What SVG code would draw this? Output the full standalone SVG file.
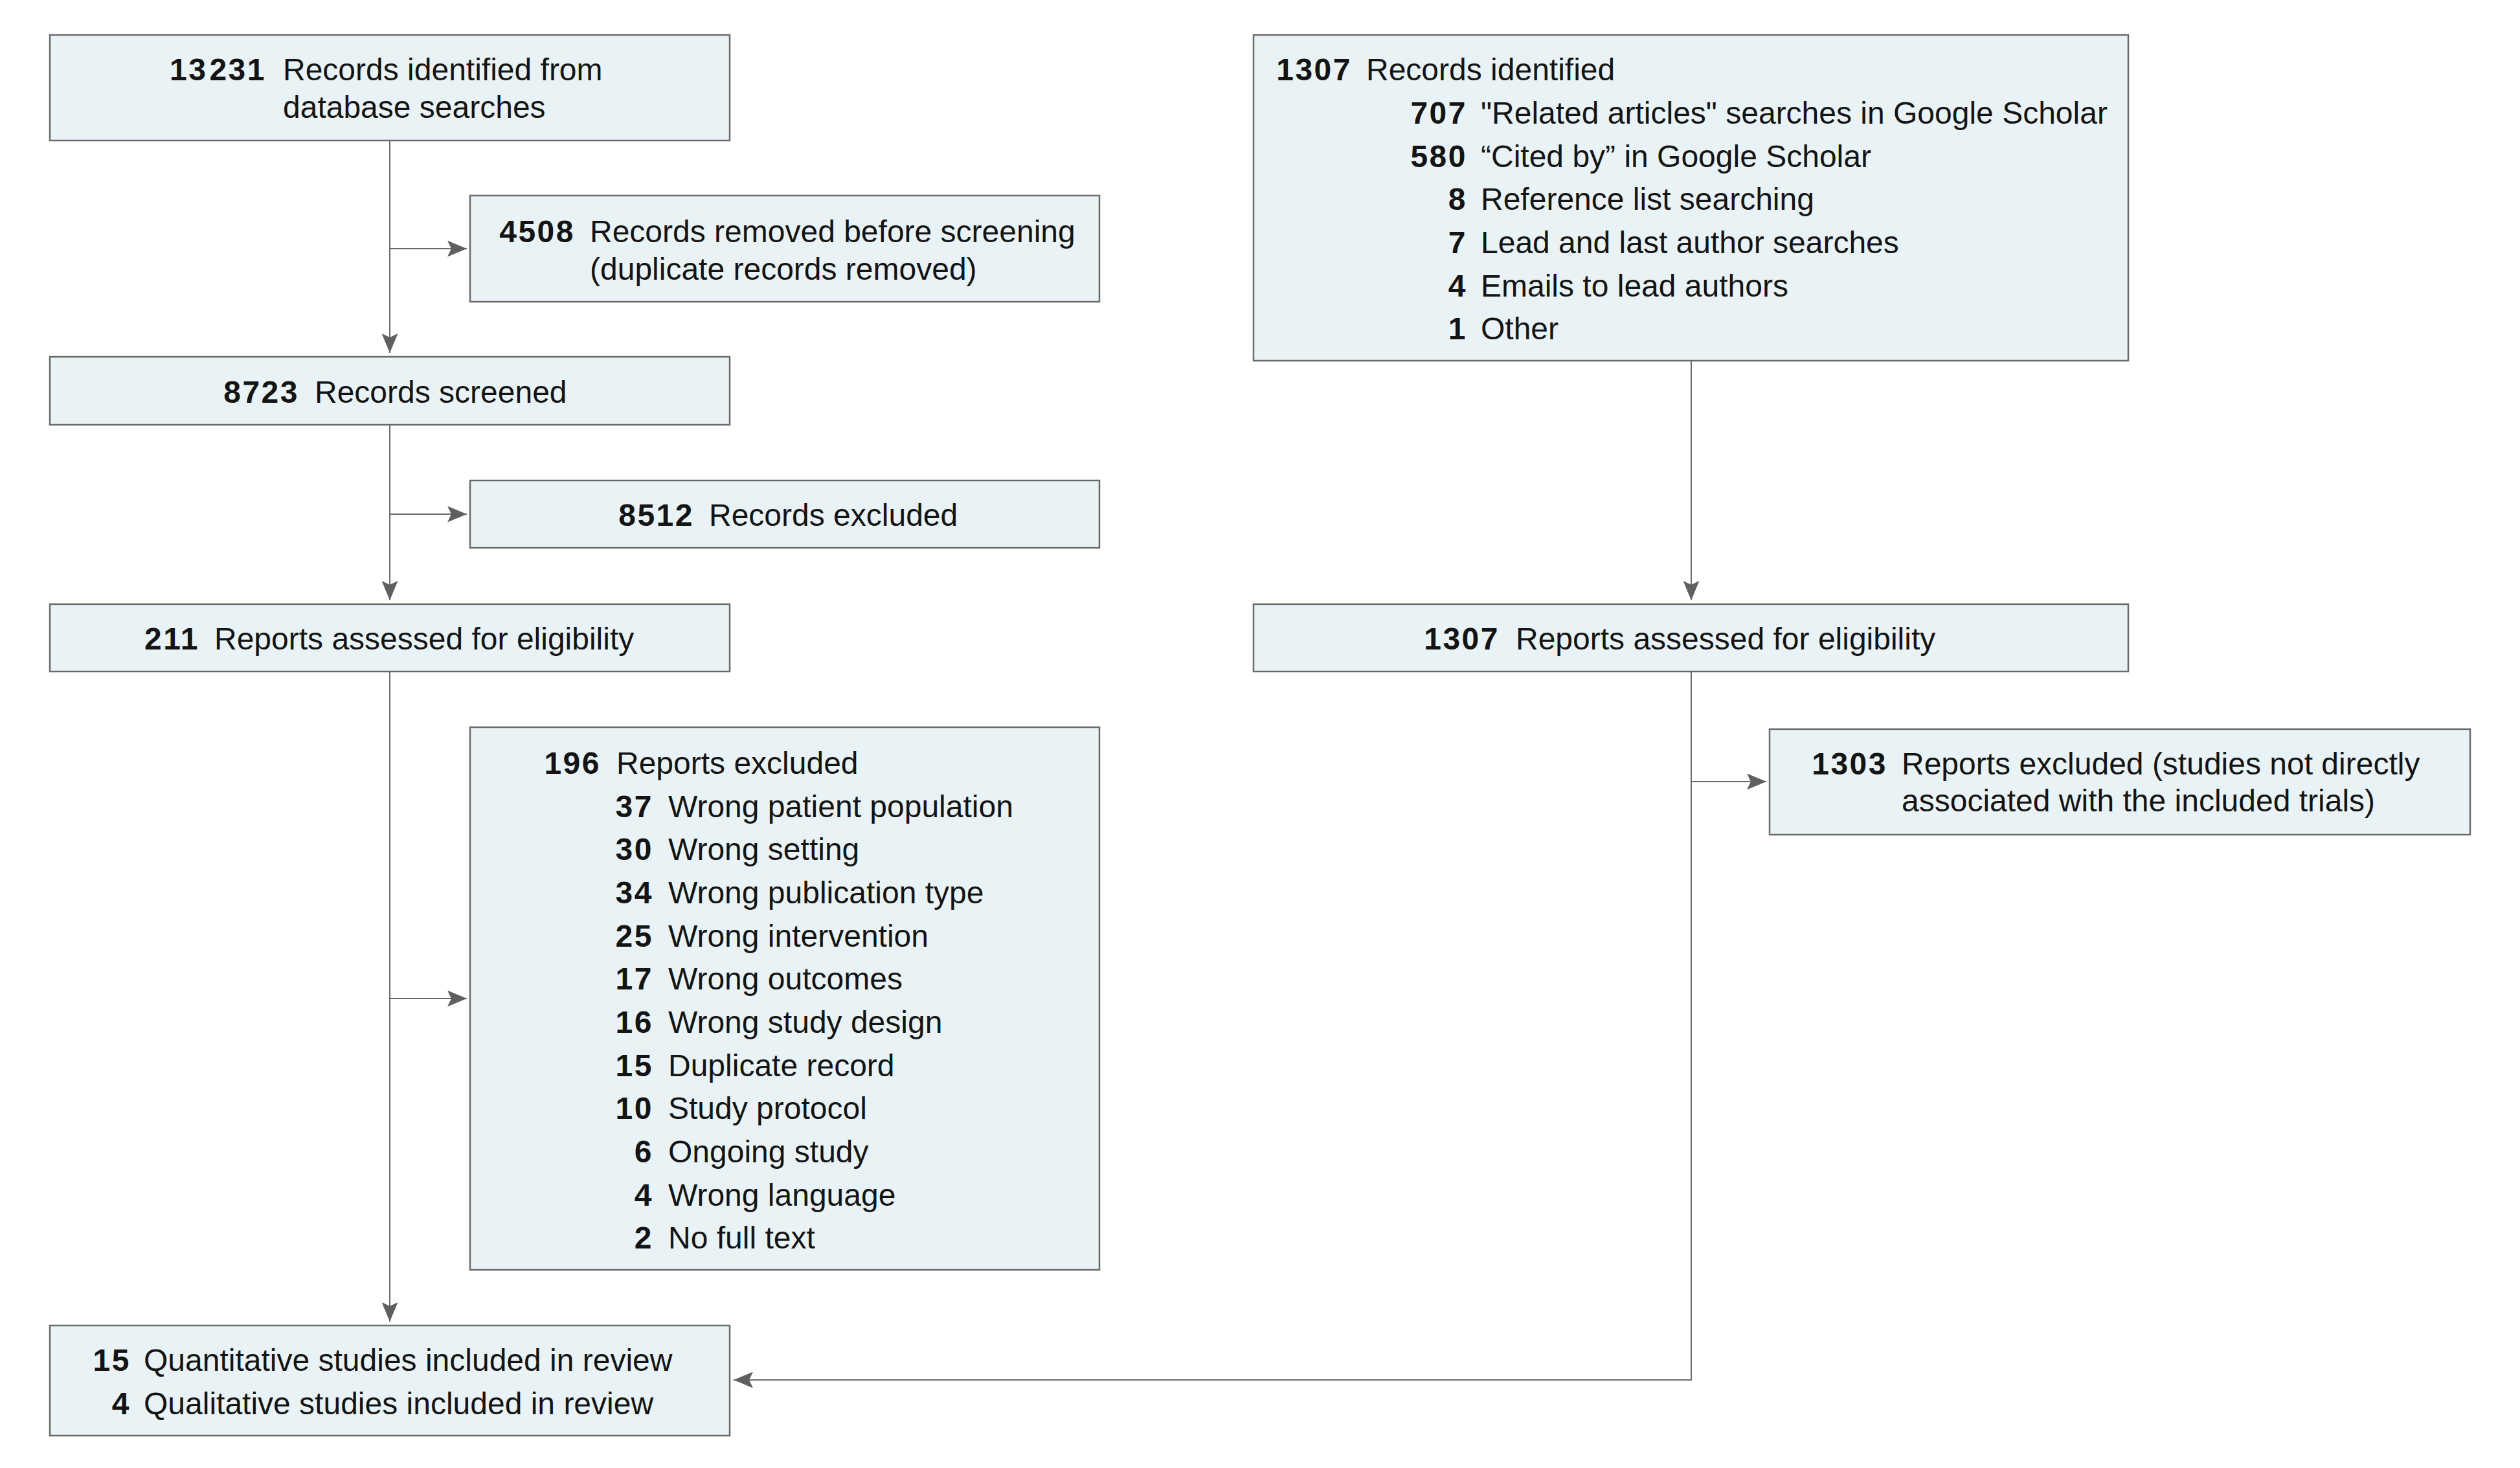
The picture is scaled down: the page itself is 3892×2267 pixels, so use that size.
<svg xmlns="http://www.w3.org/2000/svg" width="3892" height="2267" viewBox="0 0 3892 2267">
<style>
  .box { fill: #e9f3f5; stroke: #6a6a6a; stroke-width: 2.5; }
  .t { font-family: "Liberation Sans", Arial, sans-serif; font-size: 48px; fill: #141414; }
  .n { font-family: "Liberation Sans", Arial, sans-serif; font-size: 48px; font-weight: bold; fill: #141414; text-anchor: end; letter-spacing: 2.5px; }
  .c { fill: none; stroke: #6a6a6a; stroke-width: 2; }
</style>
<defs>
  <marker id="ah" markerUnits="userSpaceOnUse" markerWidth="30" markerHeight="25" refX="30" refY="12.5" orient="auto" viewBox="0 0 30 25">
    <path d="M0,0 L30,12.5 L0,25 L6,12.5 Z" fill="#5f5f5f"/>
  </marker>
</defs>
<rect width="3892" height="2267" fill="#ffffff"/>

<g id="connectors">
  <line class="c" x1="602" y1="217" x2="602" y2="545" marker-end="url(#ah)"/>
  <line class="c" x1="602" y1="384" x2="721" y2="384" marker-end="url(#ah)"/>
  <line class="c" x1="602" y1="656" x2="602" y2="927" marker-end="url(#ah)"/>
  <line class="c" x1="602" y1="794" x2="721" y2="794" marker-end="url(#ah)"/>
  <line class="c" x1="602" y1="1037" x2="602" y2="2041" marker-end="url(#ah)"/>
  <line class="c" x1="602" y1="1542" x2="721" y2="1542" marker-end="url(#ah)"/>
  <line class="c" x1="2612" y1="557" x2="2612" y2="927" marker-end="url(#ah)"/>
  <line class="c" x1="2612" y1="1207" x2="2728" y2="1207" marker-end="url(#ah)"/>
  <path class="c" d="M2612,1037 V2131 H1133" marker-end="url(#ah)"/>
</g>

<g id="n1">
  <rect class="box" x="77" y="54" width="1050" height="163"/>
  <text class="n" x="411" y="124">13<tspan dx="3">231</tspan></text>
  <text class="t" x="437" y="124">Records identified from</text>
  <text class="t" x="437" y="182">database searches</text>
</g>

<g id="n2">
  <rect class="box" x="726" y="302" width="972" height="164"/>
  <text class="n" x="888" y="374">4508</text>
  <text class="t" x="911" y="374">Records removed before screening</text>
  <text class="t" x="911" y="432">(duplicate records removed)</text>
</g>

<g id="n3">
  <rect class="box" x="77" y="551" width="1050" height="105"/>
  <text class="n" x="462" y="622">8723</text>
  <text class="t" x="486" y="622">Records screened</text>
</g>

<g id="n4">
  <rect class="box" x="726" y="742" width="972" height="104"/>
  <text class="n" x="1072" y="812">8512</text>
  <text class="t" x="1095" y="812">Records excluded</text>
</g>

<g id="n5">
  <rect class="box" x="77" y="933" width="1050" height="104"/>
  <text class="n" x="308" y="1003">211</text>
  <text class="t" x="331" y="1003">Reports assessed for eligibility</text>
</g>

<g id="n6">
  <rect class="box" x="726" y="1123" width="972" height="838"/>
  <text class="n" x="928" y="1195">196</text>
  <text class="t" x="952" y="1195">Reports excluded</text>
  <text class="n" x="1009" y="1262">37</text><text class="t" x="1032" y="1262">Wrong patient population</text>
  <text class="n" x="1009" y="1328">30</text><text class="t" x="1032" y="1328">Wrong setting</text>
  <text class="n" x="1009" y="1395">34</text><text class="t" x="1032" y="1395">Wrong publication type</text>
  <text class="n" x="1009" y="1462">25</text><text class="t" x="1032" y="1462">Wrong intervention</text>
  <text class="n" x="1009" y="1528">17</text><text class="t" x="1032" y="1528">Wrong outcomes</text>
  <text class="n" x="1009" y="1595">16</text><text class="t" x="1032" y="1595">Wrong study design</text>
  <text class="n" x="1009" y="1662">15</text><text class="t" x="1032" y="1662">Duplicate record</text>
  <text class="n" x="1009" y="1728">10</text><text class="t" x="1032" y="1728">Study protocol</text>
  <text class="n" x="1009" y="1795">6</text><text class="t" x="1032" y="1795">Ongoing study</text>
  <text class="n" x="1009" y="1862">4</text><text class="t" x="1032" y="1862">Wrong language</text>
  <text class="n" x="1009" y="1928">2</text><text class="t" x="1032" y="1928">No full text</text>
</g>

<g id="n7">
  <rect class="box" x="77" y="2047" width="1050" height="170"/>
  <text class="n" x="202" y="2117">15</text>
  <text class="t" x="222" y="2117">Quantitative studies included in review</text>
  <text class="n" x="202" y="2184">4</text>
  <text class="t" x="222" y="2184">Qualitative studies included in review</text>
</g>

<g id="n8">
  <rect class="box" x="1936" y="54" width="1351" height="503"/>
  <text class="n" x="2088" y="124">1307</text>
  <text class="t" x="2110" y="124">Records identified</text>
  <text class="n" x="2266" y="191">707</text><text class="t" x="2287" y="191">"Related articles" searches in Google Scholar</text>
  <text class="n" x="2266" y="258">580</text><text class="t" x="2287" y="258">“Cited by” in Google Scholar</text>
  <text class="n" x="2266" y="324">8</text><text class="t" x="2287" y="324">Reference list searching</text>
  <text class="n" x="2266" y="391">7</text><text class="t" x="2287" y="391">Lead and last author searches</text>
  <text class="n" x="2266" y="458">4</text><text class="t" x="2287" y="458">Emails to lead authors</text>
  <text class="n" x="2266" y="524">1</text><text class="t" x="2287" y="524">Other</text>
</g>

<g id="n9">
  <rect class="box" x="1936" y="933" width="1351" height="104"/>
  <text class="n" x="2316" y="1003">1307</text>
  <text class="t" x="2341" y="1003">Reports assessed for eligibility</text>
</g>

<g id="n10">
  <rect class="box" x="2733" y="1126" width="1082" height="163"/>
  <text class="n" x="2915" y="1196">1303</text>
  <text class="t" x="2937" y="1196">Reports excluded (studies not directly</text>
  <text class="t" x="2937" y="1253">associated with the included trials)</text>
</g>
</svg>
